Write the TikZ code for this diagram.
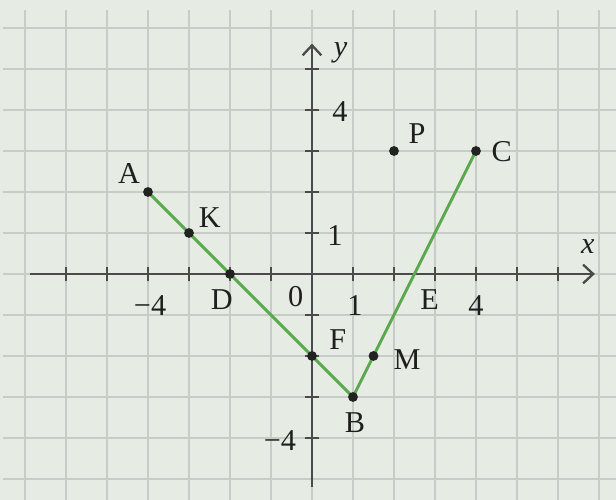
\documentclass[tikz,border=0pt]{standalone}
\usepackage{fontspec}
\setmainfont{Liberation Serif}
\usetikzlibrary{arrows.meta}
\definecolor{bgc}{HTML}{E6ECE3}
\definecolor{gridc}{HTML}{C8CCC7}
\definecolor{axisc}{HTML}{4A4A4A}
\definecolor{segc}{HTML}{5BA94F}
\definecolor{dotc}{HTML}{222222}
\begin{document}
\begin{tikzpicture}[
  gridline/.style={gridc, line width=1.3pt},
  axisline/.style={axisc, line width=1.4pt, -{Straight Barb[length=7pt,width=13pt,line width=1.6pt]}},
  tickline/.style={axisc, line width=1.2pt},
  segline/.style={segc, line width=2pt},
  dot/.style={circle, fill=dotc, inner sep=0pt, minimum size=0.24cm},
  lbl/.style={inner sep=0pt, font=\fontsize{21}{25}\selectfont, text=black!88}
]
\fill[bgc] (-7.61,-5.512) rectangle (7.415,6.683);
\useasboundingbox (-7.61,-5.512) rectangle (7.415,6.683);
% grid
\foreach \i in {-7,...,7} \draw[gridline] (\i,-5.512) -- (\i,6.44);
\foreach \j in {-5,...,6} \draw[gridline] (-7.54,\j) -- (7.415,\j);
% axes
\coordinate (xl) at (-6.88,0);
\coordinate (xr) at (6.9,0);
\coordinate (yb) at (0,-5.2);
\coordinate (yt) at (0,5.62);
\draw[axisline] (xl) -- (xr);
\draw[axisline] (yb) -- (yt);
\foreach \i in {-6,...,-1,1,2,...,6} \draw[tickline] (\i,-0.17) -- (\i,0.17);
\foreach \j in {-4,...,-1,1,2,...,5} \draw[tickline] (-0.17,\j) -- (0.17,\j);
% points
\coordinate (A) at (-4,2);
\coordinate (K) at (-3,1);
\coordinate (D) at (-2,0);
\coordinate (F) at (0,-2);
\coordinate (B) at (1,-3);
\coordinate (M) at (1.5,-2);
\coordinate (E) at (2.5,0);
\coordinate (C) at (4,3);
\coordinate (P) at (2,3);
\draw[segline] (A) -- (B) -- (C);
\foreach \p in {A,K,D,F,B,M,C,P} \node[dot] (d\p) at (\p) {};
% labels
\node[lbl] (lA) at (-4.46,2.44) {A};
\node[lbl] (lK) at (-2.49,1.37) {K};
\node[lbl] (lD) at (-2.2,-0.63) {D};
\node[lbl] (lF) at (0.63,-1.61) {F};
\node[lbl] (lB) at (1.05,-3.63) {B};
\node[lbl] (lM) at (2.32,-2.08) {M};
\node[lbl] (lE) at (2.87,-0.63) {E};
\node[lbl] (lP) at (2.56,3.42) {P};
\node[lbl] (lC) at (4.63,2.98) {C};
\node[lbl] (ly) at (0.7,5.4) {\itshape y};
\node[lbl] (lx) at (6.73,0.67) {\itshape x};
\node[lbl] (t4y) at (0.68,3.95) {4};
\node[lbl] (t1y) at (0.56,0.95) {1};
\node[lbl] (tm4y) at (-0.78,-4.07) {−4};
\node[lbl] (tm4x) at (-3.95,-0.76) {−4};
\node[lbl] (t0) at (-0.4,-0.56) {0};
\node[lbl] (t1x) at (1.05,-0.76) {1};
\node[lbl] (t4x) at (4.0,-0.76) {4};
\end{tikzpicture}
\end{document}
